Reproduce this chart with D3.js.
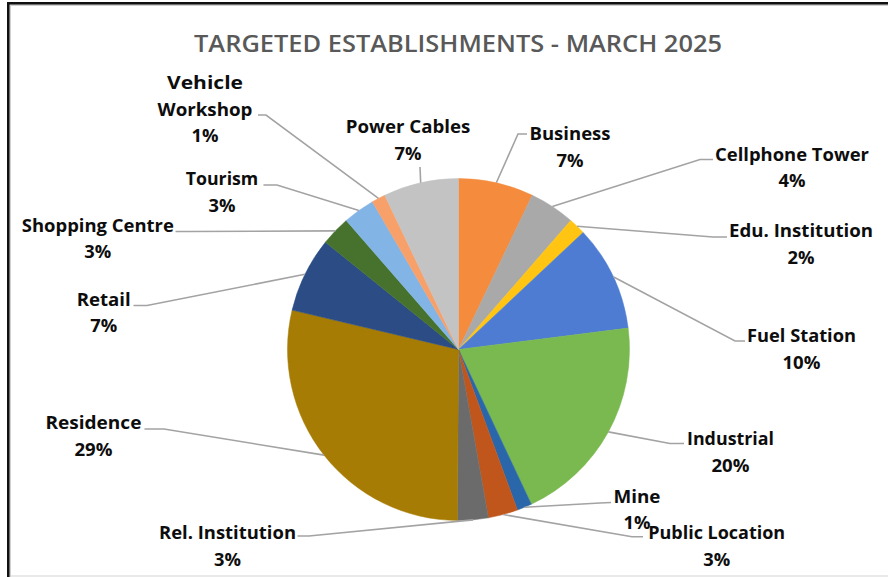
<!DOCTYPE html>
<html>
<head>
<meta charset="utf-8">
<script src="https://cdn.jsdelivr.net/npm/d3@7"></script>
<style>
  html, body { margin: 0; padding: 0; background: #ffffff; }
  svg { display: block; }
</style>
</head>
<body>
<svg id="chart" width="888" height="577"></svg>
<script>
// ---- data ----
const title = "TARGETED ESTABLISHMENTS - MARCH 2025";
const categories = ["Business", "Cellphone Tower", "Edu. Institution", "Fuel Station", "Industrial",
  "Mine", "Public Location", "Rel. Institution", "Residence", "Retail", "Shopping Centre",
  "Tourism", "Vehicle Workshop", "Power Cables"];
const values = [7.1, 4.3, 1.6, 10.0, 20.0, 1.4, 2.8, 2.9, 28.6, 7.1, 2.8, 3.0, 1.3, 7.1];
const colors = ["#F58B3D", "#A9A9A9", "#FFC512", "#4D7CD2", "#7AB94F", "#2A67AA", "#C0561C",
  "#6B6B6B", "#A67C05", "#2B4C85", "#46722E", "#82B5E5", "#F8A06A", "#C3C3C3"];

// ---- label layout (label text lines, centre x, first baseline, leader start & elbow) ----
const labelLayout = {
  "Business":         {lines: ["Business"], w: [81], cx: 570, y: 140, start: [527, 134], elbow: [518, 134]},
  "Cellphone Tower":  {lines: ["Cellphone Tower"], w: [154], cx: 792, y: 160.7, start: [713, 159.5], elbow: [700, 159.5]},
  "Edu. Institution": {lines: ["Edu. Institution"], w: [144], cx: 801, y: 237.3, start: [727, 237], elbow: [713, 237]},
  "Fuel Station":     {lines: ["Fuel Station"], w: [109], cx: 801.5, y: 342, start: [745, 341], elbow: [735, 341]},
  "Industrial":       {lines: ["Industrial"], w: [87], cx: 730.5, y: 445, start: [684, 443.5], elbow: [670, 443.5]},
  "Mine":             {lines: ["Mine"], w: [47], cx: 637, y: 502.7, start: [611, 502.5], elbow: [600, 503]},
  "Public Location":  {lines: ["Public Location"], w: [137], cx: 716.7, y: 539.3, start: [643, 536.7], elbow: [632, 536.7]},
  "Rel. Institution": {lines: ["Rel. Institution"], w: [137], cx: 227.5, y: 539.3, start: [297.5, 536], elbow: [309, 536]},
  "Residence":        {lines: ["Residence"], w: [96], cx: 93.4, y: 429.3, start: [144.5, 429], elbow: [164, 429]},
  "Retail":           {lines: ["Retail"], w: [54], cx: 103.7, y: 305.7, start: [133.5, 305.5], elbow: [147, 305.5]},
  "Shopping Centre":  {lines: ["Shopping Centre"], w: [152], cx: 97.8, y: 231.7, start: [175.5, 231.5], elbow: [190, 231.5]},
  "Tourism":          {lines: ["Tourism"], w: [72.6], cx: 222, y: 185, start: [263.5, 185], elbow: [277, 185]},
  "Vehicle Workshop": {lines: ["Vehicle", "Workshop"], w: [76, 95], cx: 205, y: 89, start: [258, 115], elbow: [266, 115]},
  "Power Cables":     {lines: ["Power Cables"], w: [124.6], cx: 408, y: 133.3, start: [420, 167], elbow: [420, 167]}
};

const W = 888, H = 577;
const cx = 458.5, cy = 349.5, R = 171;
const lineGap = 26.6;
const svg = d3.select("#chart");

// ---- frame ----
svg.append("rect").attr("x", 0).attr("y", 0).attr("width", W).attr("height", H).attr("fill", "#ffffff");
svg.append("rect").attr("x", 10).attr("y", 575).attr("width", W - 10).attr("height", 2).attr("fill", "#e9e9e9");
svg.append("rect").attr("x", 10).attr("y", 5).attr("width", W - 10).attr("height", 1).attr("fill", "#cfcfcf");
svg.append("rect").attr("x", 10).attr("y", 5).attr("width", 1).attr("height", H - 5).attr("fill", "#cfcfcf");
svg.append("rect").attr("x", 7).attr("y", 2).attr("width", W - 7).attr("height", 2.6).attr("fill", "#111111");
svg.append("rect").attr("x", 7).attr("y", 2).attr("width", 2.6).attr("height", H - 2).attr("fill", "#111111");

// ---- title ----
svg.append("text")
  .attr("x", 458).attr("y", 51.7)
  .attr("text-anchor", "middle")
  .attr("font-family", "'Open Sans', 'Liberation Sans', sans-serif")
  .attr("font-size", 23).attr("font-weight", 600)
  .attr("fill", "#595959")
  .attr("textLength", 528).attr("lengthAdjust", "spacingAndGlyphs")
  .text(title);

// ---- pie ----
const total = d3.sum(values);
const pie = d3.pie().sort(null).value(d => d.value).startAngle(0).endAngle(2 * Math.PI);
const data = categories.map((c, i) => ({name: c, value: values[i], color: colors[i]}));
const arcs = pie(data);
const arc = d3.arc().innerRadius(0).outerRadius(R);
const edge = d3.arc().innerRadius(R).outerRadius(R);

const g = svg.append("g").attr("transform", `translate(${cx},${cy})`);
g.selectAll("path.slice").data(arcs).enter().append("path")
  .attr("class", "slice")
  .attr("d", arc)
  .attr("fill", d => d.data.color)
  .attr("stroke", d => d.data.color)
  .attr("stroke-width", 0.5);

// ---- leader lines ----
const fmt = v => Math.round(v / total * 100) + "%";
const lineGen = d3.line();
svg.selectAll("path.leader").data(arcs).enter().append("path")
  .attr("class", "leader")
  .attr("d", d => {
    const L = labelLayout[d.data.name];
    const c = edge.centroid(d);
    return lineGen([L.start, L.elbow, [cx + c[0], cy + c[1]]]);
  })
  .attr("fill", "none")
  .attr("stroke", "#A3A3A3")
  .attr("stroke-width", 1.6);

// ---- labels ----
const lab = svg.selectAll("g.label").data(arcs).enter().append("g").attr("class", "label");
lab.each(function(d) {
  const L = labelLayout[d.data.name];
  const sel = d3.select(this);
  const lines = L.lines.concat([fmt(d.data.value)]);
  lines.forEach((t, k) => {
    const isPct = k === lines.length - 1;
    const w = isPct ? (t.length >= 3 ? 38 : 27) : L.w[k];
    sel.append("text")
      .attr("x", L.cx)
      .attr("y", L.y + k * lineGap)
      .attr("text-anchor", "middle")
      .attr("font-family", "'Open Sans', 'Liberation Sans', sans-serif")
      .attr("font-size", 17).attr("font-weight", 700)
      .attr("fill", "#0d0d0d")
      .attr("textLength", w).attr("lengthAdjust", "spacingAndGlyphs")
      .text(t);
  });
});
</script>
</body>
</html>
